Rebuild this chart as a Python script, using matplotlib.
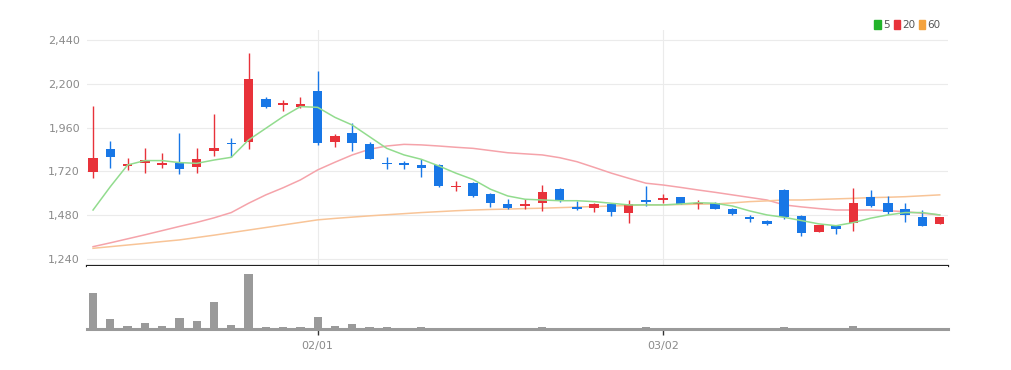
import numpy as np
import matplotlib
matplotlib.use("Agg")
import matplotlib.pyplot as plt
from matplotlib.patches import Patch

plt.rcParams['font.family'] = ['Liberation Sans Narrow', 'DejaVu Sans']

# daily candles (red = up, blue = down)
opens = [1718, 1841, 1748, 1768, 1757, 1768, 1746, 1830, 1877, 1879,
         2118, 2084, 2075, 2162, 1883, 1929, 1870, 1764, 1764, 1755,
         1755, 1636, 1655, 1596, 1541, 1530, 1548, 1625, 1527, 1518,
         1541, 1490, 1563, 1563, 1578, 1540, 1548, 1514, 1472, 1450,
         1618, 1477, 1386, 1422, 1439, 1578, 1545, 1514, 1468, 1432]
highs = [2078, 1886, 1792, 1850, 1819, 1932, 1850, 2034, 1901, 2370,
         2125, 2111, 2129, 2272, 1925, 1987, 1883, 1797, 1779, 1788,
         1760, 1667, 1664, 1600, 1567, 1567, 1645, 1627, 1559, 1545,
         1545, 1563, 1640, 1594, 1582, 1563, 1552, 1518, 1481, 1454,
         1623, 1481, 1426, 1422, 1627, 1618, 1587, 1545, 1508, 1468]
lows = [1685, 1737, 1728, 1713, 1737, 1704, 1713, 1806, 1800, 1841,
        2068, 2053, 2066, 1865, 1852, 1832, 1788, 1731, 1731, 1691,
        1636, 1613, 1581, 1523, 1512, 1512, 1503, 1552, 1508, 1499,
        1476, 1439, 1530, 1548, 1540, 1516, 1514, 1479, 1443, 1425,
        1459, 1366, 1386, 1375, 1395, 1527, 1485, 1444, 1421, 1432]
closes = [1792, 1797, 1758, 1780, 1768, 1732, 1788, 1850, 1869, 2225,
          2075, 2093, 2090, 1877, 1914, 1877, 1788, 1759, 1757, 1740,
          1640, 1642, 1587, 1545, 1521, 1541, 1609, 1558, 1514, 1541,
          1496, 1541, 1552, 1572, 1540, 1545, 1516, 1487, 1457, 1430,
          1468, 1384, 1426, 1404, 1548, 1530, 1499, 1481, 1421, 1468]

ma5 = [1508, 1636, 1755, 1779, 1779, 1768, 1764, 1782, 1797, 1892,
       1956, 2020, 2075, 2071, 2016, 1974, 1910, 1846, 1810, 1786,
       1750, 1710, 1675, 1622, 1585, 1567, 1563, 1559, 1559, 1554,
       1545, 1536, 1536, 1536, 1541, 1548, 1545, 1530, 1503, 1481,
       1468, 1450, 1432, 1422, 1439, 1463, 1481, 1494, 1494, 1481]
ma20 = [1307, 1328, 1350, 1372, 1395, 1418, 1440, 1465, 1494, 1545,
        1591, 1630, 1673, 1728, 1770, 1810, 1841, 1859, 1868, 1865,
        1859, 1852, 1846, 1834, 1822, 1816, 1810, 1795, 1773, 1742,
        1710, 1682, 1655, 1645, 1632, 1618, 1605, 1591, 1577, 1563,
        1536, 1525, 1516, 1508, 1508, 1508, 1504, 1499, 1490, 1481]
ma60 = [1298, 1307, 1316, 1325, 1335, 1344, 1357, 1370, 1384, 1398,
        1412, 1426, 1440, 1454, 1462, 1469, 1476, 1482, 1488, 1494,
        1499, 1504, 1508, 1511, 1513, 1516, 1518, 1521, 1524, 1527,
        1530, 1533, 1536, 1536, 1538, 1540, 1541, 1547, 1554, 1558,
        1563, 1563, 1566, 1569, 1572, 1576, 1578, 1581, 1586, 1591]

volumes = [35.7, 9.7, 3.0, 5.7, 3.0, 10.7, 8.0, 27.3, 4.0, 55.0,
           2.3, 2.0, 2.0, 12.3, 3.0, 4.7, 2.3, 2.0, 1.5, 2.5,
           1.3, 1.3, 1.3, 1.3, 1.3, 1.3, 2.3, 1.3, 1.3, 1.3,
           1.3, 1.3, 2.3, 1.3, 1.3, 1.3, 0, 0, 0, 0,
           2.0, 1.3, 0, 0, 2.8, 1.3, 1.3, 0, 1.3, 0]

date_pos = [13, 33]
date_labels = ['02/01', '03/02']
price_ticks = [1240, 1480, 1720, 1960, 2200, 2440]

UP = '#e8323a'
DOWN = '#1877e6'
GRAY_TXT = '#8a8a8a'

fig = plt.figure(figsize=(10.11, 3.70), dpi=100)
L, W = 87/1011, (948-87)/1011
ax = fig.add_axes([L, 1-266/370, W, (266-30)/370])
axv = fig.add_axes([L, 1-329/370, W, (329-266)/370], sharex=ax)

x = np.arange(len(opens))
o = np.array(opens); c = np.array(closes)
cols = [UP if cc >= oo else DOWN for oo, cc in zip(o, c)]

ax.vlines(x, lows, highs, colors=cols, linewidth=1.0, zorder=3)
bottoms = np.minimum(o, c)
heights = np.maximum(np.abs(c - o), 3)
ax.bar(x, heights, bottom=bottoms, width=0.55, color=cols, zorder=4)

ax.plot(x, ma5, color='#92dc8e', lw=1.1, zorder=5)
ax.plot(x, ma20, color='#f5a3aa', lw=1.1, zorder=2)
ax.plot(x, ma60, color='#f8c497', lw=1.1, zorder=2)

ax.set_xlim(-0.35, 49.48)
ax.set_ylim(1201, 2495)
ax.set_yticks(price_ticks)
ax.set_yticklabels(['{:,}'.format(t) for t in price_ticks])
ax.tick_params(axis='y', length=0, labelsize=8, labelcolor=GRAY_TXT, pad=5)
ax.tick_params(axis='x', length=0, labelbottom=False)
ax.grid(axis='y', color='#ebebeb', lw=0.8)
for p in date_pos:
    ax.axvline(p, color='#ebebeb', lw=0.8, zorder=0)
ax.set_axisbelow(True)
for s in ['top', 'left', 'right']:
    ax.spines[s].set_visible(False)
ax.spines['bottom'].set_color('#222222')
ax.spines['bottom'].set_linewidth(1.6)

axv.bar(x, volumes, width=0.48, color='#9a9a9a', zorder=3)
axv.set_ylim(0, 63)
axv.set_yticks([])
axv.set_xticks(date_pos)
axv.set_xticklabels(date_labels)
axv.tick_params(axis='x', length=4, width=1, color='#333333', labelsize=8,
                labelcolor=GRAY_TXT, pad=5)
for s in ['top', 'left', 'right']:
    axv.spines[s].set_visible(False)
axv.spines['bottom'].set_color('#9a9a9a')
axv.spines['bottom'].set_linewidth(2.2)

handles = [Patch(color='#22b32a', label='5'),
           Patch(color='#e8323a', label='20'),
           Patch(color='#f4a23c', label='60')]
fig.legend(handles=handles, loc='center right', bbox_to_anchor=(950/1011, 1-25/370),
           ncol=3, frameon=False, fontsize=7.5, handlelength=0.6, handleheight=0.9,
           handletextpad=0.2, columnspacing=0.4, labelcolor='#555555')

fig.savefig('out.png', dpi=100, facecolor='white')
